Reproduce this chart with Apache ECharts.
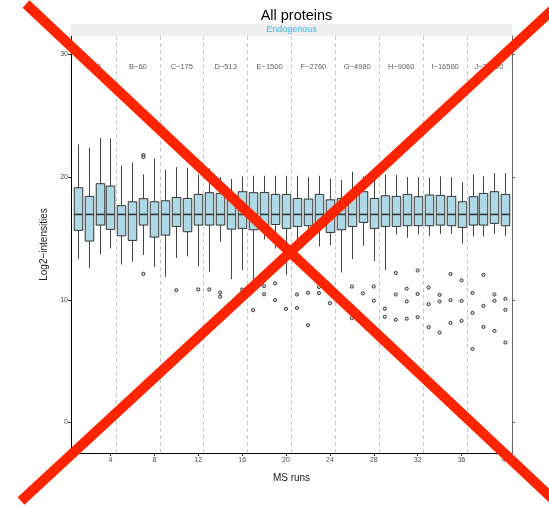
<!DOCTYPE html>
<html>
<head>
<meta charset="utf-8">
<script src="https://cdn.jsdelivr.net/npm/echarts@6/dist/echarts.min.js"></script>
<style>
html,body{margin:0;padding:0;background:#fff;}
#chart{width:549px;height:507px;}
</style>
</head>
<body>
<div id="chart"></div>
<script>
// ---- data ----
var runs = [1,2,3,4,5,6,7,8,9,10,11,12,13,14,15,16,17,18,19,20,21,22,23,24,25,26,27,28,29,30,31,32,33,34,35,36,37,38,39,40];
var whiskerLow = [13.31,12.6,13.69,14.18,12.87,13.09,13.64,12.66,11.87,13.41,13.53,12.71,12.28,14.72,11.68,12.41,11.62,14.91,14.18,12.0,14.86,15.3,14.34,14.45,12.22,13.31,14.4,13.15,12.41,15.32,15.05,15.32,15.18,15.37,15.37,14.59,15.15,15.15,15.37,15.21];
var q1 = [15.65,14.78,16.08,15.73,15.21,14.83,16.08,15.1,15.26,15.97,15.54,16.08,16.08,16.08,15.75,15.81,15.7,15.81,16.13,15.81,15.97,16.03,16.03,15.48,15.7,15.97,16.3,15.81,15.97,15.97,16.03,16.03,16.03,16.08,16.03,15.89,16.08,16.08,16.22,16.03];
var median = [16.95,16.95,16.95,16.95,16.95,16.95,16.95,16.95,16.95,16.95,16.95,16.95,16.95,16.95,16.95,16.95,16.95,16.95,16.95,16.95,16.95,16.95,16.95,16.95,16.95,16.95,16.95,16.95,16.95,16.95,16.95,16.95,16.95,16.95,16.95,16.95,16.95,16.95,16.95,16.95];
var q3 = [19.12,18.42,19.45,19.26,17.66,17.98,18.23,17.98,18.06,18.33,18.25,18.58,18.72,18.66,18.58,18.8,18.72,18.74,18.58,18.58,18.25,18.2,18.58,18.14,18.25,18.31,18.8,18.25,18.47,18.42,18.58,18.39,18.53,18.5,18.42,17.98,18.39,18.66,18.8,18.58];
var whiskerHigh = [22.65,22.38,23.2,23.15,20.92,21.19,20.21,21.51,20.59,20.8,20.75,20.21,20.7,19.99,19.83,20.05,20.1,20.1,20.1,20.1,20.1,20.02,20.1,19.88,19.75,20.43,20.05,19.67,20.21,20.16,19.99,19.99,19.94,20.05,19.99,19.58,20.21,20.05,20.32,20.32];

var outlierRun = [7,7,7,10,12,13,14,14,16,17,18,18,19,19,20,21,21,22,22,23,23,24,26,26,27,28,28,29,29,30,30,30,31,31,31,32,32,32,33,33,33,34,34,34,35,35,35,36,36,36,37,37,37,38,38,38,39,39,39,40,40,40];
var outlierValue = [21.78,21.62,12.11,10.78,10.84,10.84,10.59,10.26,10.83,9.15,11.11,10.45,11.34,9.97,9.26,10.43,9.34,10.57,7.93,11.04,10.54,9.72,11.07,8.5,10.52,11.08,9.92,9.27,8.61,12.18,10.43,8.37,10.9,9.87,8.46,12.38,10.47,8.58,11.0,9.64,7.77,10.4,9.86,7.33,12.09,9.97,8.12,11.58,9.91,8.28,10.56,8.93,6.0,12.03,9.5,7.79,10.43,9.91,7.47,10.08,9.18,6.52];

var groups = ['A\u22120','B\u221260','C\u2212175','D\u2212513','E\u22121500','F\u22122760','G\u22124980','H\u22129060','I\u221216500','J\u221230000'];
var runsPerGroup = 4;
var xTicks = [4,8,12,16,20,24,28,32,36,40];
var yTicks = [0,10,20,30];
var groupLabelLevel = 29;

// ---- build series data ----
var boxData = runs.map(function(r, i){
  return [r, whiskerLow[i], q1[i], median[i], q3[i], whiskerHigh[i]];
});
var outlierData = outlierRun.map(function(r, i){ return [r, outlierValue[i]]; });
var groupData = groups.map(function(g, i){
  return { name: g, value: [i * runsPerGroup + (runsPerGroup + 1) / 2, groupLabelLevel] };
});
var boundaries = groups.slice(1).map(function(g, i){ return (i + 1) * runsPerGroup + 0.5; });

var FONT = 'Liberation Sans, Arial, Helvetica, sans-serif';

function renderBox(params, api) {
  var x = api.value(0);
  var lo = api.coord([x, api.value(1)]);
  var a = api.coord([x, api.value(2)]);
  var md = api.coord([x, api.value(3)]);
  var b = api.coord([x, api.value(4)]);
  var hi = api.coord([x, api.value(5)]);
  var w = api.size([0.78, 0])[0];
  var cx = Math.round(lo[0]) + 0.5;
  return {
    type: 'group',
    children: [
      { type: 'line', shape: { x1: cx, y1: lo[1], x2: cx, y2: a[1] }, style: { stroke: '#444', lineWidth: 1 } },
      { type: 'line', shape: { x1: cx, y1: b[1], x2: cx, y2: hi[1] }, style: { stroke: '#444', lineWidth: 1 } },
      { type: 'rect', shape: { x: cx - w / 2, y: b[1], width: w, height: a[1] - b[1] }, style: { fill: '#add8e6', stroke: '#333', lineWidth: 1 } },
      { type: 'line', shape: { x1: cx - w / 2, y1: md[1], x2: cx + w / 2, y2: md[1] }, style: { stroke: '#333', lineWidth: 1.6 } }
    ]
  };
}

var chart = echarts.init(document.getElementById('chart'), null, { renderer: 'canvas' });
chart.setOption({
  animation: false,
  backgroundColor: '#fff',
  textStyle: { fontFamily: FONT },
  title: {
    text: 'All proteins',
    left: 291.5, top: 3, textAlign: 'center',
    textStyle: { fontSize: 14.5, fontWeight: 'normal', color: '#000', fontFamily: FONT }
  },
  grid: { left: 71, right: 37, top: 36, bottom: 54 },
  xAxis: {
    type: 'value', min: 0.4, max: 40.6,
    name: 'MS runs', nameLocation: 'middle', nameGap: 20,
    nameTextStyle: { fontSize: 10, color: '#222', fontFamily: FONT },
    axisLine: { show: true, onZero: false, lineStyle: { color: '#000', width: 1 } },
    axisTick: { show: true, length: 3, customValues: xTicks, lineStyle: { color: '#333' } },
    axisLabel: { show: true, customValues: xTicks, fontSize: 7, color: '#4d4d4d', margin: 4, fontFamily: FONT },
    splitLine: { show: false }
  },
  yAxis: [{
    type: 'value', min: -2.48, max: 31.48,
    name: 'Log2\u2212intensities', nameLocation: 'middle', nameGap: 16,
    nameTextStyle: { fontSize: 10, color: '#222', fontFamily: FONT },
    axisLine: { show: true, onZero: false, lineStyle: { color: '#000', width: 1 } },
    axisTick: { show: true, length: 3, customValues: yTicks, lineStyle: { color: '#333' } },
    axisLabel: { show: true, customValues: yTicks, fontSize: 7, color: '#4d4d4d', margin: 3, fontFamily: FONT },
    splitLine: { show: false }
  }, {
    type: 'value', min: -2.48, max: 31.48, position: 'right',
    axisLine: { show: true, onZero: false, lineStyle: { color: '#666', width: 1 } },
    axisTick: { show: true, length: 3, customValues: yTicks, lineStyle: { color: '#666' } },
    axisLabel: { show: false },
    splitLine: { show: false }
  }],
  graphic: [
    { type: 'rect', shape: { x: 71, y: 24, width: 441, height: 12 }, style: { fill: '#efefef' }, z: 1 },
    { type: 'text', x: 291.5, y: 30, style: { text: 'Endogenous', fill: '#3bb5e8', fontSize: 9, fontFamily: FONT, textAlign: 'center', textVerticalAlign: 'middle' }, z: 2 },
    { type: 'line', shape: { x1: 26, y1: 4, x2: 560, y2: 505.6 }, style: { stroke: '#ff2400', lineWidth: 10 }, z: 100 },
    { type: 'line', shape: { x1: 21, y1: 501, x2: 560, y2: 2.9 }, style: { stroke: '#ff2400', lineWidth: 10 }, z: 100 }
  ],
  series: [
    {
      type: 'scatter', z: 1,
      data: groupData,
      symbolSize: 1,
      itemStyle: { color: 'rgba(0,0,0,0)' },
      label: { show: true, position: 'inside', formatter: '{b}', fontSize: 7.5, color: '#333', fontFamily: FONT },
      markLine: {
        silent: true, symbol: ['none', 'none'],
        label: { show: false },
        lineStyle: { color: '#c8c8c8', type: [4, 3], width: 1 },
        data: boundaries.map(function(v){ return { xAxis: v }; })
      }
    },
    {
      type: 'custom', z: 3,
      renderItem: renderBox,
      encode: { x: 0, y: [1, 2, 3, 4, 5] },
      data: boxData
    },
    {
      type: 'scatter', z: 4,
      data: outlierData,
      symbol: 'circle', symbolSize: 3.2,
      itemStyle: { color: '#d8d8d8', borderColor: '#111', borderWidth: 1 }
    }
  ]
});
</script>
</body>
</html>
